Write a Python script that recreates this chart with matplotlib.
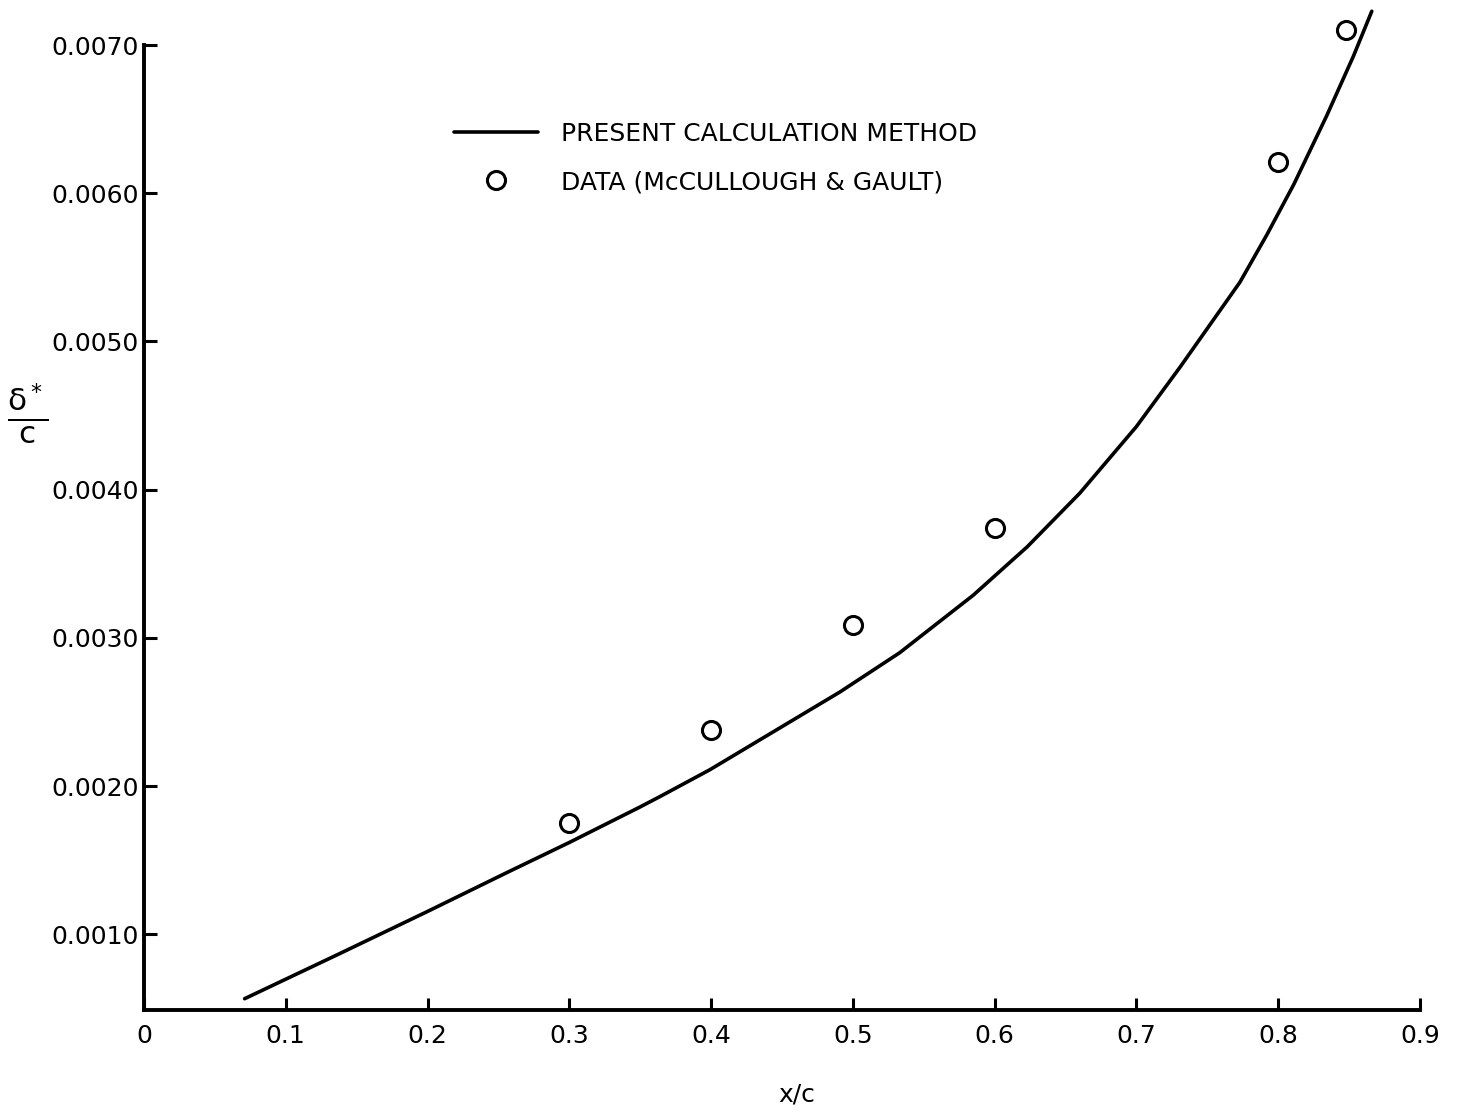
import matplotlib
matplotlib.use("Agg")
import matplotlib.pyplot as plt

# displacement thickness along the chord
calc_x = [0.071, 0.138, 0.199, 0.256, 0.300, 0.350, 0.364, 0.399, 0.491,
          0.533, 0.585, 0.623, 0.660, 0.700, 0.731, 0.773, 0.792, 0.811,
          0.834, 0.853, 0.866]
calc_y = [0.000566, 0.00087, 0.00115, 0.001417, 0.00162, 0.00186, 0.00193,
          0.00211, 0.002636, 0.00290, 0.003289, 0.003615, 0.003976,
          0.004426, 0.00483, 0.00540, 0.00572, 0.006060, 0.006519,
          0.006924, 0.007228]

data_x = [0.3, 0.4, 0.5, 0.6, 0.8, 0.848]
data_y = [0.00175, 0.00238, 0.00309, 0.00374, 0.00621, 0.00710]

x_ticks = [0, 0.1, 0.2, 0.3, 0.4, 0.5, 0.6, 0.7, 0.8, 0.9]
x_labels = ["0", "0.1", "0.2", "0.3", "0.4", "0.5", "0.6", "0.7", "0.8", "0.9"]
y_ticks = [0.0010, 0.0020, 0.0030, 0.0040, 0.0050, 0.0060, 0.0070]
y_labels = ["0.0010", "0.0020", "0.0030", "0.0040", "0.0050", "0.0060", "0.0070"]

plt.rcParams['font.family'] = ['DejaVu Sans']
plt.rcParams['mathtext.default'] = 'regular'

fig = plt.figure(figsize=(14.57, 11.15), dpi=100)
ax = fig.add_axes([0.0988, 0.0942, 0.8758, 0.8654])

ax.plot(calc_x, calc_y, color='black', lw=2.6, clip_on=False,
        solid_capstyle='round', solid_joinstyle='round',
        label='PRESENT CALCULATION METHOD')
ax.plot(data_x, data_y, 'o', ms=13, mfc='white', mec='black', mew=2.2,
        clip_on=False, label='DATA (McCULLOUGH & GAULT)')

ax.set_xlim(0, 0.9)
ax.set_ylim(0.00049, 0.0070)
ax.set_xticks(x_ticks)
ax.set_xticklabels(x_labels)
ax.set_yticks(y_ticks)
ax.set_yticklabels(y_labels)

for side in ['top', 'right']:
    ax.spines[side].set_visible(False)
for side in ['left', 'bottom']:
    ax.spines[side].set_linewidth(2.8)

ax.tick_params(axis='both', direction='in', length=9, width=2.2,
               labelsize=18)
ax.tick_params(axis='x', pad=10)
ax.tick_params(axis='y', pad=4)

fig.text(797 / 1457, 1 - 1095 / 1115, 'x/c', fontsize=18,
         ha='center', va='center')
fig.text(28 / 1457, 1 - 413 / 1115, r'$\frac{\delta^*}{c}$', fontsize=32,
         ha='center', va='center')

ax.legend(loc='upper left', bbox_to_anchor=(0.2255, 0.944), frameon=False,
          fontsize=18, numpoints=1, handlelength=3.36, handletextpad=0.9,
          labelspacing=0.98)

fig.savefig('out.png', dpi=100, facecolor='white')
